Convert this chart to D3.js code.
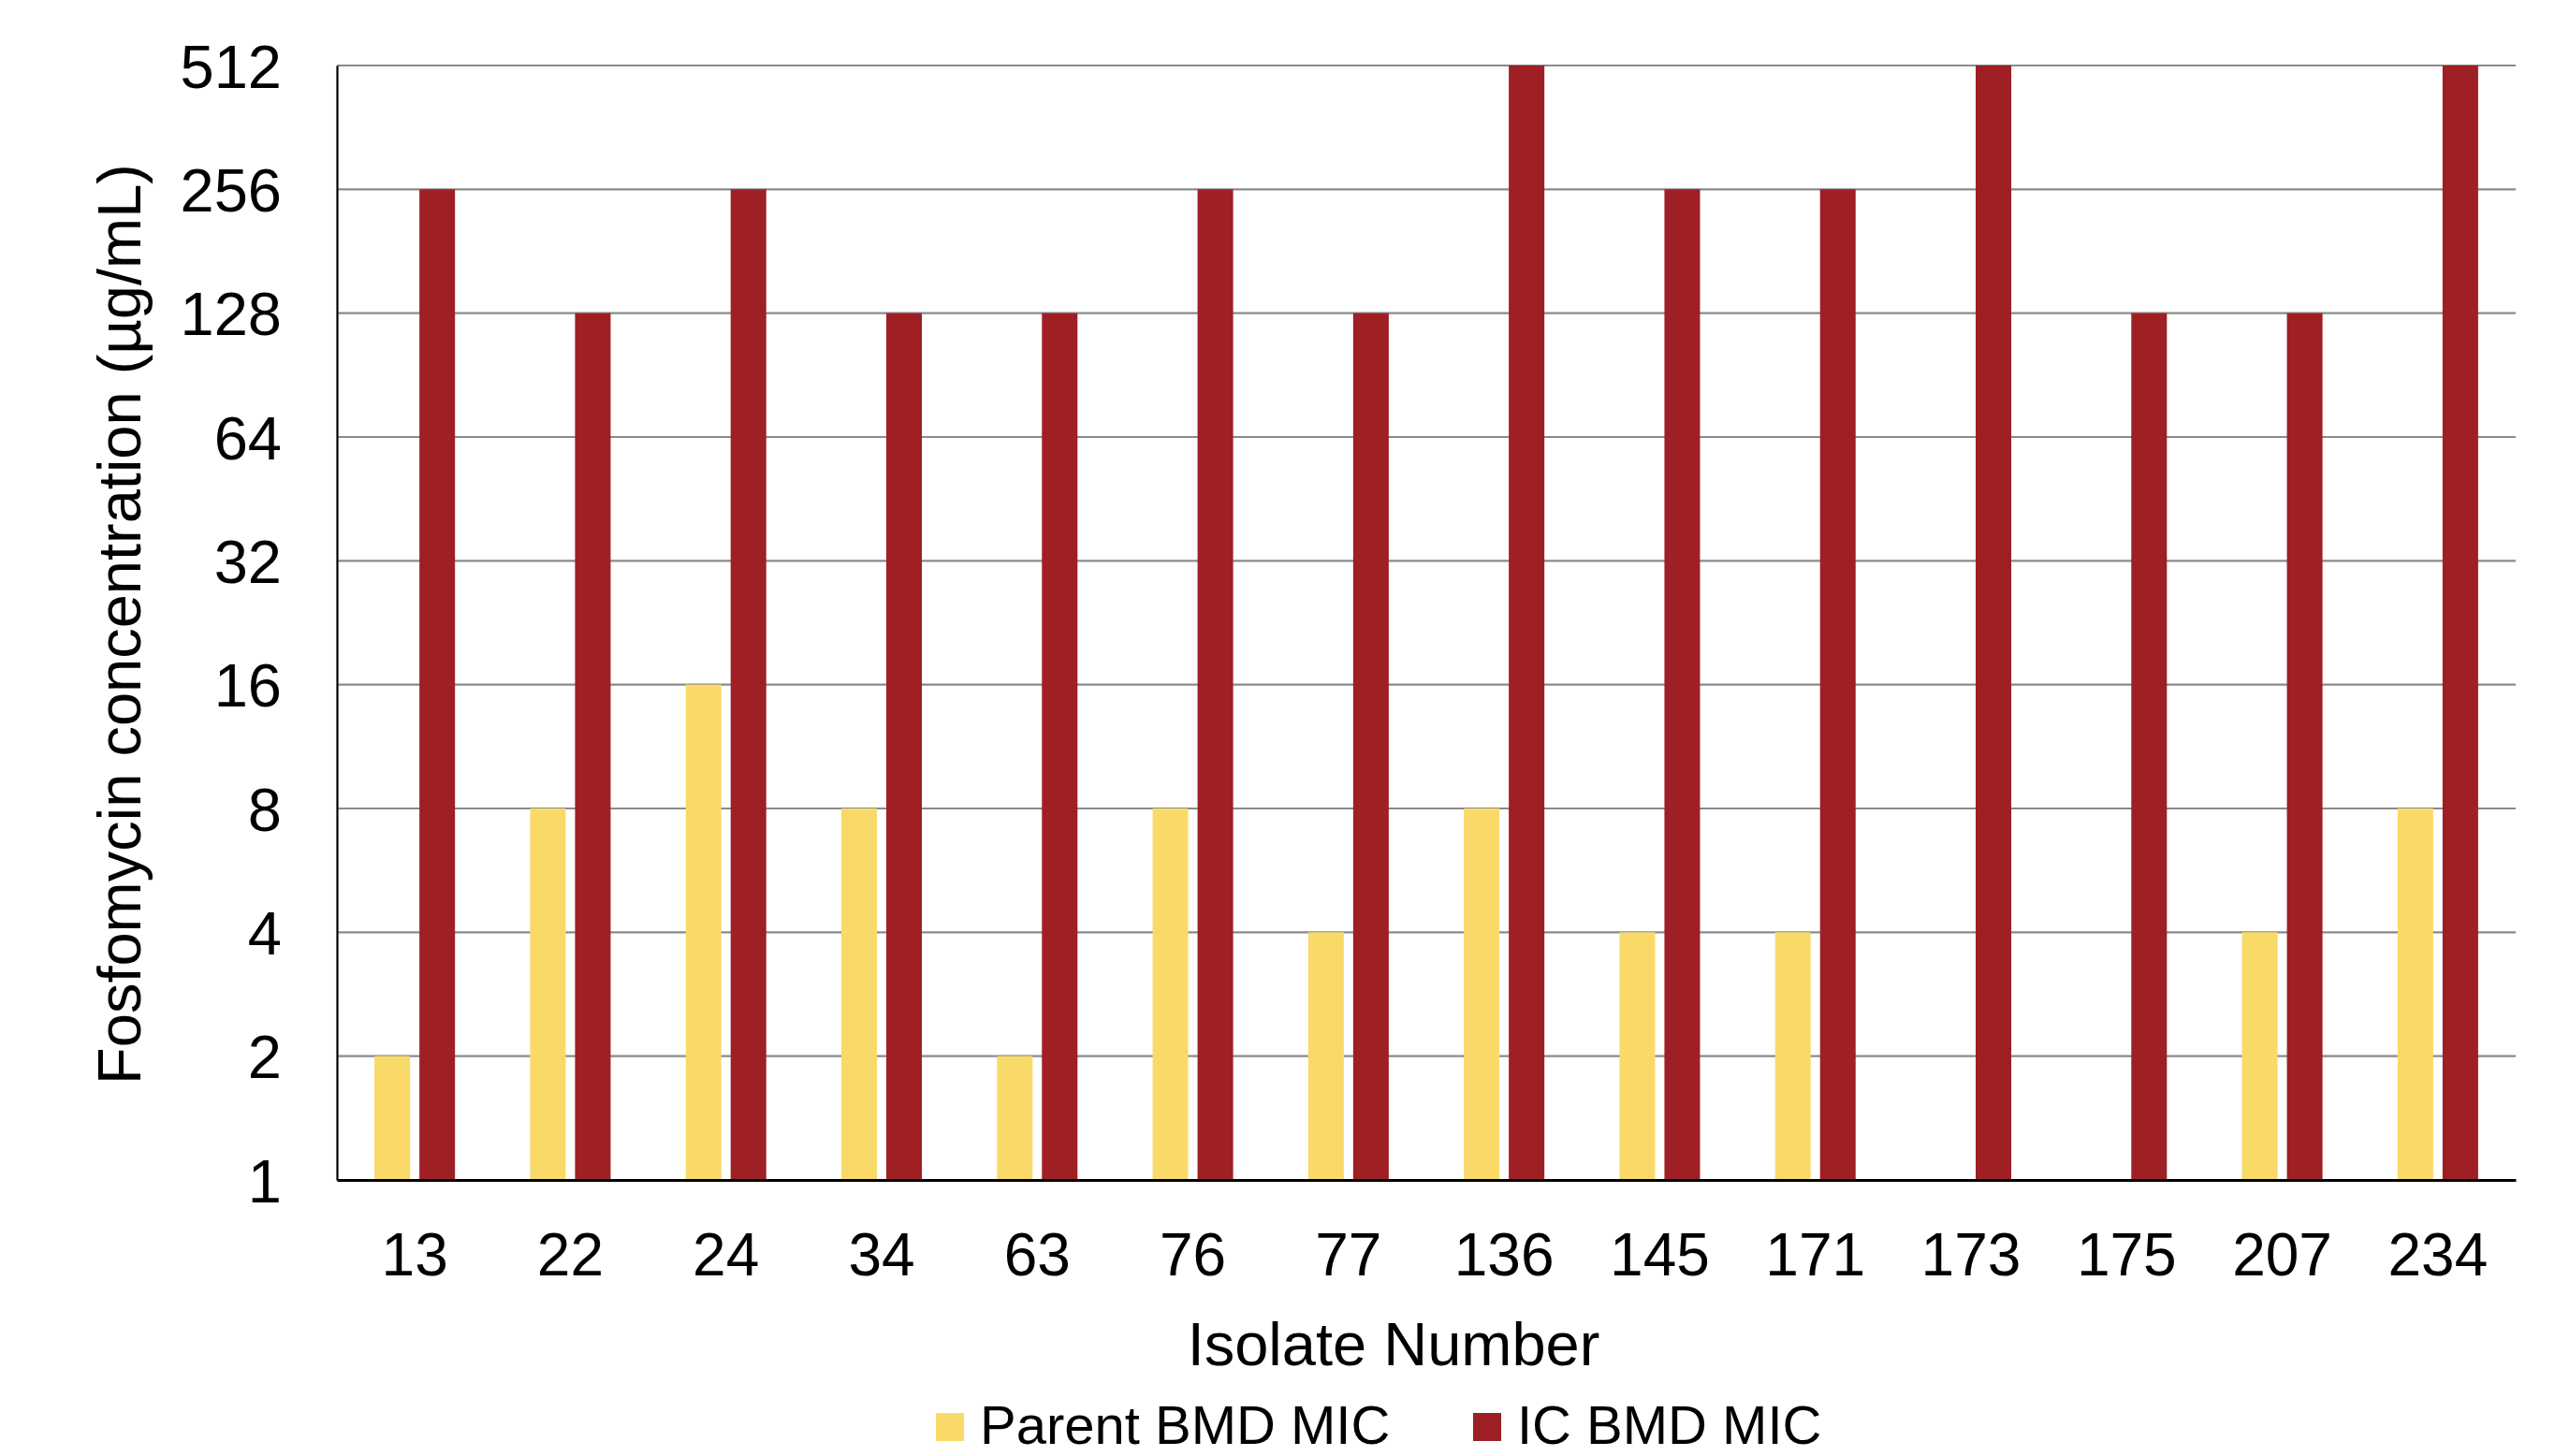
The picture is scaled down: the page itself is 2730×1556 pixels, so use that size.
<!DOCTYPE html>
<html>
<head>
<meta charset="utf-8">
<script src="https://cdn.jsdelivr.net/npm/d3@7"></script>
<style>
  html, body { margin: 0; padding: 0; background: #fff; }
  svg { display: block; font-family: "Liberation Sans", Arial, sans-serif; }
</style>
</head>
<body>
<script>
const categories = ["13", "22", "24", "34", "63", "76", "77", "136", "145", "171", "173", "175", "207", "234"];
const parentMIC = [2, 8, 16, 8, 2, 8, 4, 8, 4, 4, null, null, 4, 8];
const icMIC = [256, 128, 256, 128, 128, 256, 128, 512, 256, 256, 512, 128, 128, 512];
const yTicks = [1, 2, 4, 8, 16, 32, 64, 128, 256, 512];
const seriesNames = ["Parent BMD MIC", "IC BMD MIC"];
const seriesColors = ["#F9DA69", "#9E1F24"];

(function () {
const W = 2730, H = 1556;
const mLeft = 360, mRight = 2688, mTop = 70, mBottom = 1261;

const svg = d3.select("body").append("svg").attr("width", W).attr("height", H);

const x0 = d3.scaleBand().domain(categories).range([mLeft, mRight]).padding(0);
const x1 = d3.scaleBand().domain(seriesNames).range([0, x0.bandwidth()])
  .paddingInner(0.208).paddingOuter(0.836);
const y = d3.scaleLog().base(2).domain([1, 512]).range([mBottom, mTop]);

// gridlines
svg.append("g").selectAll("line").data(yTicks.filter(d => d > 1)).join("line")
  .attr("x1", mLeft).attr("x2", mRight)
  .attr("y1", d => y(d)).attr("y2", d => y(d))
  .attr("stroke", "#8a8a8a").attr("stroke-width", 2.2);

// bars
const rows = categories.map((c, i) => ({ c, vals: [parentMIC[i], icMIC[i]] }));
const g = svg.append("g");
rows.forEach(r => {
  r.vals.forEach((v, j) => {
    if (v == null) return;
    g.append("rect")
      .attr("x", x0(r.c) + x1(seriesNames[j]))
      .attr("width", x1.bandwidth())
      .attr("y", y(v))
      .attr("height", y(1) - y(v))
      .attr("fill", seriesColors[j]);
  });
});

// y axis
const yAxis = d3.axisLeft(y).tickValues(yTicks).tickFormat(d3.format("d")).tickSize(0).tickPadding(59);
const ya = svg.append("g").attr("transform", `translate(${mLeft},0)`).call(yAxis);
ya.select(".domain").attr("stroke", "#000").attr("stroke-width", 2.2);
ya.selectAll("text").attr("font-size", 65).attr("fill", "#000")
  .attr("font-family", "Liberation Sans, Arial, sans-serif").attr("dy", "0.355em");

// x axis
const xAxis = d3.axisBottom(x0).tickSize(0).tickPadding(0);
const xa = svg.append("g").attr("transform", `translate(0,${mBottom})`).call(xAxis);
xa.select(".domain").attr("stroke", "#000").attr("stroke-width", 2.8);
xa.selectAll("text").attr("font-size", 64).attr("fill", "#000")
  .attr("font-family", "Liberation Sans, Arial, sans-serif")
  .attr("y", 102).attr("dy", 0);

// axis titles
svg.append("text").attr("x", 1489).attr("y", 1459).attr("text-anchor", "middle")
  .attr("font-size", 65).attr("fill", "#000").text("Isolate Number");
svg.append("text").attr("transform", "translate(150,667) rotate(-90)")
  .attr("text-anchor", "middle").attr("font-size", 65).attr("fill", "#000")
  .text("Fosfomycin concentration (µg/mL)");

// legend
const legendX = [1000, 1574];
seriesNames.forEach((s, i) => {
  svg.append("rect").attr("x", legendX[i]).attr("y", 1510).attr("width", 30).attr("height", 30)
    .attr("fill", seriesColors[i]);
  svg.append("text").attr("x", legendX[i] + 47).attr("y", 1543)
    .attr("font-size", 58).attr("fill", "#000").text(s);
});
})();
</script>
</body>
</html>
